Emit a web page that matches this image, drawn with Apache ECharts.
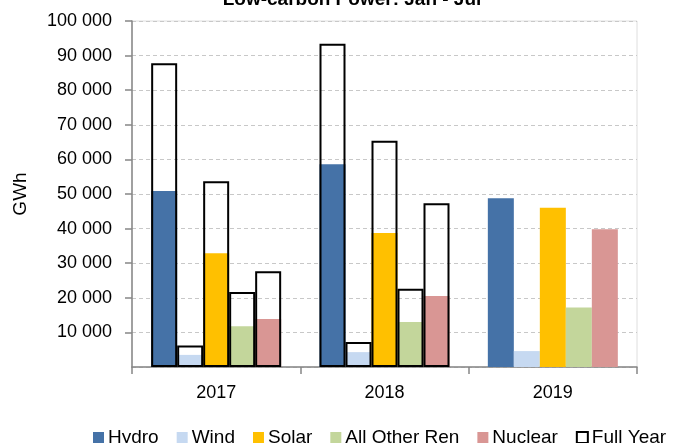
<!DOCTYPE html>
<html>
<head>
<meta charset="utf-8">
<script src="https://cdn.jsdelivr.net/npm/echarts@6/dist/echarts.min.js"></script>
<style>
  html, body { margin: 0; padding: 0; background: #fff; }
  #chart { width: 674px; height: 443px; }
</style>
</head>
<body>
<div id="chart"></div>
<script>
// data (GWh)
const years = ['2017', '2018', '2019']
const yTicks = [0, 10000, 20000, 30000, 40000, 50000, 60000, 70000, 80000, 90000, 100000]

// Jan - Jul
const hydro = [50900, 58600, 48800]
const wind = [3500, 4300, 4600]
const solar = [32900, 38700, 46000]
const otherRen = [11800, 13000, 17200]
const nuclear = [13900, 20500, 39800]

// full year (no 2019 yet)
const fullHydro = [87800, 93400, null]
const fullWind = [6200, 7200, null]
const fullSolar = [53700, 65400, null]
const fullOtherRen = [21700, 22600, null]
const fullNuclear = [27700, 47300, null]

const seriesNames = ['Hydro', 'Wind', 'Solar', 'All Other Ren', 'Nuclear']
const seriesColors = ['#4572A7', '#C6D9F1', '#FFC000', '#C3D69B', '#D99694']
const partData = [hydro, wind, solar, otherRen, nuclear]
const fullData = [fullHydro, fullWind, fullSolar, fullOtherRen, fullNuclear]

const font = 'Liberation Sans'
const chart = echarts.init(document.getElementById('chart'))

const fmt = v => String(v).replace(/\B(?=(\d{3})+(?!\d))/g, ' ')

const series = []
partData.forEach((d, i) => {
  series.push({
    name: seriesNames[i],
    type: 'bar',
    xAxisIndex: 0,
    data: d,
    barWidth: 26,
    barGap: 0,
    itemStyle: { color: seriesColors[i] },
    z: 2
  })
})
// outline bars on a hidden twin axis so they sit over the coloured ones
fullData.forEach(d => {
  series.push({
    name: 'Full Year',
    type: 'bar',
    xAxisIndex: 1,
    data: d,
    barWidth: 26,
    barGap: 0,
    itemStyle: { color: 'rgba(255,255,255,0)', borderColor: '#000', borderWidth: 2 },
    z: 3
  })
})

const option = {
  animation: false,
  backgroundColor: '#fff',
  textStyle: { fontFamily: font, color: '#000' },
  title: {
    text: 'Low-carbon Power: Jan - Jul',
    left: 347,
    textAlign: 'center',
    top: -15,
    textStyle: { fontFamily: font, fontSize: 19, fontWeight: 'bold', color: '#000' }
  },
  grid: {
    left: 132, right: 37, top: 21, bottom: 76,
    show: true, borderColor: '#dedede', borderWidth: 1
  },
  legend: {
    left: 88,
    top: 423,
    itemWidth: 11,
    itemHeight: 11,
    itemGap: 18,
    icon: 'rect',
    textStyle: { fontFamily: font, fontSize: 19, color: '#000', padding: [0, 0, 0, -1] },
    data: seriesNames.map(n => ({ name: n })).concat([{
      name: 'Full Year',
      itemStyle: { color: '#fff', borderColor: '#000', borderWidth: 2 }
    }])
  },
  xAxis: [
    {
      type: 'category',
      data: years,
      axisLine: { lineStyle: { color: '#868686', width: 1.5 } },
      axisTick: { show: true, length: 7, lineStyle: { color: '#868686', width: 1.5 } },
      axisLabel: { fontFamily: font, fontSize: 18, color: '#000', margin: 17 }
    },
    {
      type: 'category',
      data: years,
      show: false
    }
  ],
  yAxis: {
    type: 'value',
    min: yTicks[0],
    max: yTicks[yTicks.length - 1],
    interval: yTicks[1] - yTicks[0],
    name: 'GWh',
    nameLocation: 'middle',
    nameRotate: 90,
    nameGap: 102,
    nameTextStyle: { fontFamily: font, fontSize: 19, color: '#000' },
    axisLine: { show: true, lineStyle: { color: '#868686', width: 1.5 } },
    axisTick: { show: true, length: 7, lineStyle: { color: '#868686', width: 1.5 } },
    axisLabel: { fontFamily: font, fontSize: 18, color: '#000', margin: 20, formatter: fmt, showMinLabel: false },
    splitLine: { lineStyle: { color: '#c8c8c8', type: [4, 3], width: 1 } }
  },
  series: series
}

chart.setOption(option)
</script>
</body>
</html>
